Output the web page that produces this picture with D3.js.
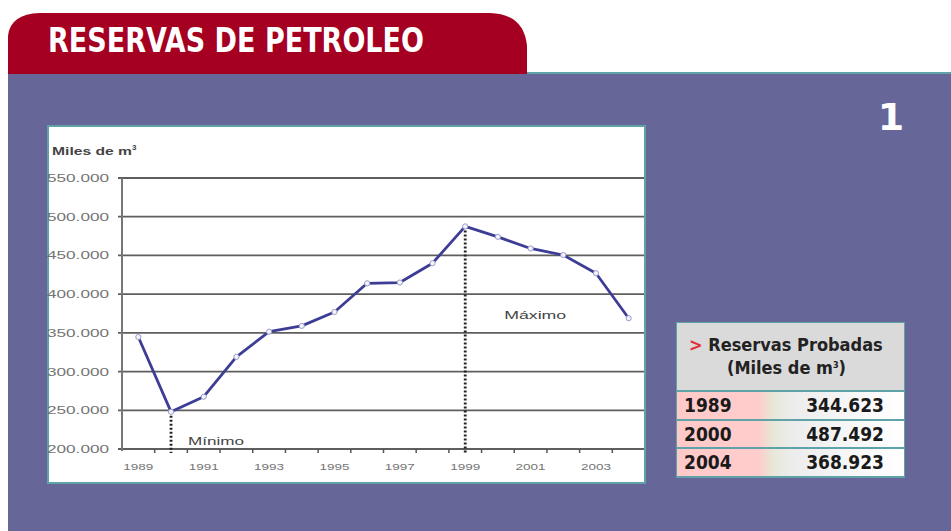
<!DOCTYPE html>
<html><head><meta charset="utf-8">
<script src="https://cdn.jsdelivr.net/npm/d3@7/dist/d3.min.js"></script>
<style>html,body{margin:0;padding:0;background:#fff;}svg{display:block;}</style>
</head><body>
<script>
const years = [1989,1990,1991,1992,1993,1994,1995,1996,1997,1998,1999,2000,2001,2002,2003,2004];
const reserves = [344623,248000,267500,319000,351500,359000,377000,414000,415000,440000,487492,474000,459000,450500,427000,368923];
const yTicks = [200000,250000,300000,350000,400000,450000,500000,550000];
const xLabelYears = [1989,1991,1993,1995,1997,1999,2001,2003];
const tableYears = ["1989","2000","2004"];
const tableValues = ["344.623","487.492","368.923"];
const title = "RESERVAS DE PETROLEO";

const W = 951, H = 531;
const svg = d3.select("body").append("svg").attr("width", W).attr("height", H);
const defs = svg.append("defs");
const grad = defs.append("linearGradient").attr("id","rowgrad").attr("x1","0").attr("x2","1").attr("y1","0").attr("y2","0");
[["0%","#ffc9c9"],["36%","#ffcccc"],["42%","#e8e6d6"],["50%","#ececec"],["75%","#f6f6f6"],["100%","#ffffff"]]
  .forEach(([o,c]) => grad.append("stop").attr("offset",o).attr("stop-color",c));

// Purple panel
svg.append("rect").attr("x",8).attr("y",72).attr("width",W-8).attr("height",H-72).attr("fill","#666699");
svg.append("line").attr("x1",8).attr("x2",W).attr("y1",73).attr("y2",73).attr("stroke","#5fa3a8").attr("stroke-width",2);

// Red tab
svg.append("path").attr("d","M8,74 L8,36 Q10,14 40,13 L490,13 Q524,14 527,46 L527,74 Z").attr("fill","#a50021");
svg.append("text").attr("x",48).attr("y",52).attr("fill","#fff")
  .attr("font-family","'Liberation Sans Narrow','DejaVu Sans Condensed',Arial,sans-serif")
  .attr("font-weight","bold").attr("font-size",34)
  .attr("textLength",376).attr("lengthAdjust","spacingAndGlyphs").text(title);

// Number 1
svg.append("text").attr("x",891).attr("y",130).attr("text-anchor","middle").attr("fill","#fff")
  .attr("font-family","'DejaVu Sans',Arial,sans-serif").attr("font-weight","bold").attr("font-size",38).text("1");

// Chart box
svg.append("rect").attr("x",48).attr("y",126).attr("width",597).attr("height",357)
  .attr("fill","#fff").attr("stroke","#5fa3a8").attr("stroke-width",2);

const x = d3.scaleBand().domain(years).range([122,645]).padding(0);
const y = d3.scaleLinear().domain([200000,550000]).range([449,178]);
const cx = d => x(d) + x.bandwidth()/2;

// grid lines
svg.append("g").selectAll("line").data(yTicks).join("line")
  .attr("x1",118).attr("x2",644).attr("y1",d=>y(d)).attr("y2",d=>y(d))
  .attr("stroke","#5e5e5e").attr("stroke-width",1.8);
// left axis
svg.append("line").attr("x1",122).attr("x2",122).attr("y1",y(550000)).attr("y2",y(200000)+2)
  .attr("stroke","#777").attr("stroke-width",2);
// y labels
svg.append("g").selectAll("text").data(yTicks).join("text")
  .attr("x",47).attr("y",d=>y(d)+4).attr("fill","#747474")
  .attr("font-family","Arial,'Liberation Sans',sans-serif").attr("font-size",11)
  .attr("textLength",62).attr("lengthAdjust","spacingAndGlyphs")
  .text(d => d3.format(",")(d).replace(/,/g,"."));
// x tick marks at band boundaries
svg.append("g").selectAll("line").data(years.slice(1)).join("line")
  .attr("x1",d=>x(d)).attr("x2",d=>x(d)).attr("y1",449).attr("y2",453)
  .attr("stroke","#555").attr("stroke-width",1.5);
// x labels
svg.append("g").selectAll("text").data(xLabelYears).join("text")
  .attr("x",d=>cx(d)-15).attr("y",470).attr("fill","#747474")
  .attr("font-family","Arial,'Liberation Sans',sans-serif").attr("font-size",9)
  .attr("textLength",30).attr("lengthAdjust","spacingAndGlyphs").text(d=>d);

// axis title
const at = svg.append("text").attr("x",52).attr("y",155).attr("fill","#444")
  .attr("font-family","Arial,'Liberation Sans',sans-serif").attr("font-size",10).attr("font-weight","bold");
at.append("tspan").attr("textLength",80).attr("lengthAdjust","spacingAndGlyphs").text("Miles de m");
at.append("tspan").attr("dy",-5).attr("font-size",8).text("3");

// min / max dotted lines
const minIdx = 1, maxIdx = 10;
[minIdx, maxIdx].forEach(i => {
  svg.append("line").attr("x1",cx(years[i])).attr("x2",cx(years[i]))
    .attr("y1",y(reserves[i])).attr("y2",453)
    .attr("stroke","#222").attr("stroke-width",2.8).attr("stroke-dasharray","2,2");
});
svg.append("text").attr("x",cx(years[minIdx])+17).attr("y",445).attr("fill","#444")
  .attr("font-family","Arial,'Liberation Sans',sans-serif").attr("font-size",11)
  .attr("textLength",56).attr("lengthAdjust","spacingAndGlyphs").text("Mínimo");
svg.append("text").attr("x",cx(years[maxIdx])+39).attr("y",319).attr("fill","#444")
  .attr("font-family","Arial,'Liberation Sans',sans-serif").attr("font-size",11)
  .attr("textLength",62).attr("lengthAdjust","spacingAndGlyphs").text("Máximo");

// line
const line = d3.line().x((d,i)=>cx(years[i])).y(d=>y(d));
svg.append("path").datum(reserves).attr("d",line).attr("fill","none")
  .attr("stroke","#3d3d96").attr("stroke-width",2.8).attr("stroke-linejoin","round");
svg.append("g").selectAll("circle").data(reserves).join("circle")
  .attr("cx",(d,i)=>cx(years[i])).attr("cy",d=>y(d)).attr("r",2.6)
  .attr("fill","#f4f4ff").attr("stroke","#9a9ac8").attr("stroke-width",1);

// Table
const tx = 676, tw = 229;
svg.append("rect").attr("x",tx).attr("y",322).attr("width",tw).attr("height",156).attr("fill","#5fa3a8");
svg.append("rect").attr("x",tx+1).attr("y",323).attr("width",tw-2).attr("height",67).attr("fill","#dadada");
const tf = "'Liberation Sans Narrow','DejaVu Sans Condensed',Arial,sans-serif";
const h1 = svg.append("text").attr("x",689).attr("y",351).attr("font-family",tf).attr("font-weight","bold").attr("font-size",18)
  .attr("fill","#222");
h1.append("tspan").attr("fill","#e0303a").text("> ");
h1.append("tspan").text("Reservas Probadas");
const h2 = svg.append("text").attr("x",727).attr("y",374).attr("font-family",tf).attr("font-weight","bold").attr("font-size",18).attr("fill","#222");
h2.append("tspan").text("(Miles de m");
h2.append("tspan").attr("dy",-6).attr("font-size",9).text("3");
h2.append("tspan").attr("dy",6).text(")");

const rowY = [392,421,449], rowH = [27,26,27];
tableYears.forEach((yr,i) => {
  svg.append("rect").attr("x",tx+1).attr("y",rowY[i]).attr("width",tw-2).attr("height",rowH[i]).attr("fill","url(#rowgrad)");
  svg.append("text").attr("x",684).attr("y",rowY[i]+20).attr("font-family",tf).attr("font-weight","bold")
    .attr("font-size",19).attr("fill","#1a1a1a").text(yr);
  svg.append("text").attr("x",884).attr("y",rowY[i]+20).attr("text-anchor","end").attr("font-family",tf).attr("font-weight","bold")
    .attr("font-size",19).attr("fill","#1a1a1a").text(tableValues[i]);
});
</script>
</body></html>
